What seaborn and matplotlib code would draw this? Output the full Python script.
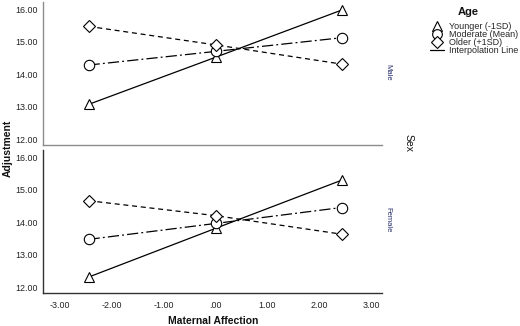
import numpy as np
import pandas as pd
import seaborn as sns
import matplotlib
matplotlib.use("Agg")
import matplotlib.pyplot as plt
from matplotlib.lines import Line2D

# ---- data ----
maternal_affection = [-2.45, 0.0, 2.43]
age_groups = ["Younger (-1SD)", "Moderate (Mean)", "Older (+1SD)"]
sexes = ["Male", "Female"]
male_younger = [13.07, 14.52, 15.97]
male_moderate = [14.28, 14.70, 15.12]
male_older = [15.47, 14.90, 14.31]
female_younger = [12.31, 13.81, 15.29]
female_moderate = [13.47, 13.96, 14.45]
female_older = [14.66, 14.20, 13.63]
xtick_values = [-3, -2, -1, 0, 1, 2, 3]
xtick_labels = ["-3.00", "-2.00", "-1.00", ".00", "1.00", "2.00", "3.00"]
ytick_values = [12, 13, 14, 15, 16]
ytick_labels = ["12.00", "13.00", "14.00", "15.00", "16.00"]

series = {
    "Male": [male_younger, male_moderate, male_older],
    "Female": [female_younger, female_moderate, female_older],
}
rows = []
for sex in sexes:
    for age, vals in zip(age_groups, series[sex]):
        for x, y in zip(maternal_affection, vals):
            rows.append({"Sex": sex, "Age": age, "x": x, "y": y})
df = pd.DataFrame(rows)

sns.set_theme(style="white")
plt.rcParams["font.family"] = ["Liberation Sans", "DejaVu Sans"]

fig = plt.figure(figsize=(5.2, 3.26), dpi=100)
W, H = 520, 326
def ax_rect(l, t, r, b):
    return [l / W, 1 - b / H, (r - l) / W, (b - t) / H]

ax_top = fig.add_axes(ax_rect(43, 2, 382, 145))
ax_bot = fig.add_axes(ax_rect(43, 150, 382, 293))

markers = {age_groups[0]: "^", age_groups[1]: "o", age_groups[2]: "D"}
dashes = {age_groups[0]: "", age_groups[1]: (9, 2.5, 1.5, 2.5), age_groups[2]: (4, 3)}
msizes = {age_groups[0]: 7.5, age_groups[1]: 7.5, age_groups[2]: 6.5}

for ax, sex in [(ax_top, "Male"), (ax_bot, "Female")]:
    sub = df[df["Sex"] == sex]
    for age in age_groups:
        d = sub[sub["Age"] == age]
        sns.lineplot(data=d, x="x", y="y", ax=ax, color="black", lw=0.9,
                     marker=markers[age], markersize=msizes[age],
                     markerfacecolor="white", markeredgecolor="black",
                     markeredgewidth=0.8, legend=False,
                     dashes=False, linestyle="-")
        line = ax.lines[-1]
        if dashes[age]:
            line.set_dashes(dashes[age])
    ax.set_xlim(-3.33, 3.21)
    ax.set_ylim(11.82, 16.22)
    ax.set_yticks(ytick_values)
    ax.set_yticklabels(ytick_labels)
    ax.set_xlabel("")
    ax.set_ylabel("")
    ax.tick_params(axis="both", length=0, labelsize=6.4, colors="#222222", pad=3.6)
    for s in ["top", "right"]:
        ax.spines[s].set_visible(False)
    ax.text(1.016, 0.51, sex, transform=ax.transAxes, rotation=-90,
            fontsize=5.5, color="#27306a", ha="center", va="center")

ax_top.set_xticks(xtick_values)
ax_top.set_xticklabels([])
ax_bot.set_xticks(xtick_values)
ax_bot.set_xticklabels(xtick_labels)
ax_bot.tick_params(axis="x", pad=6)
for s in ["left", "bottom"]:
    ax_top.spines[s].set_color("#8c8c8c")
    ax_top.spines[s].set_linewidth(1.0)
    ax_bot.spines[s].set_color("#333333")
    ax_bot.spines[s].set_linewidth(1.0)

fig.text(8 / W, 1 - 148 / H, "Adjustment", rotation=90, fontsize=7.5,
         fontweight="bold", ha="center", va="center", color="#111111")
fig.text(213 / W, 1 - 321 / H, "Maternal Affection", fontsize=7.5,
         fontweight="bold", ha="center", va="center", color="#111111")
fig.text(409 / W, 1 - 143 / H, "Sex", rotation=-90, fontsize=7.5,
         ha="center", va="center", color="#111111")
fig.text(468 / W, 1 - 12 / H, "Age", fontsize=8, fontweight="bold",
         ha="center", va="center", color="#111111")

handles = [
    Line2D([], [], ls="none", marker="^", ms=7, mfc="white", mec="black", mew=0.8),
    Line2D([], [], ls="none", marker="o", ms=7, mfc="white", mec="black", mew=0.8),
    Line2D([], [], ls="none", marker="D", ms=6, mfc="white", mec="black", mew=0.8),
    Line2D([], [], color="black", lw=0.9),
]
labels = age_groups + ["Interpolation Line"]
leg = fig.legend(handles, labels, loc="upper left",
                 bbox_to_anchor=(428 / W, 1 - 20 / H), frameon=False,
                 fontsize=6.5, handlelength=1.6, handletextpad=0.55,
                 labelspacing=-0.1, borderpad=0.2, borderaxespad=0)

fig.savefig("out.png", dpi=100)
